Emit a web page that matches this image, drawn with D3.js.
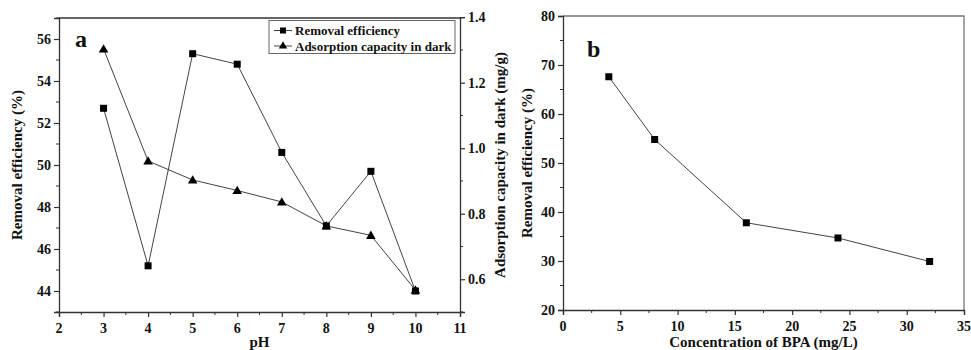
<!DOCTYPE html>
<html>
<head>
<meta charset="utf-8">
<script src="https://cdn.jsdelivr.net/npm/d3@7"></script>
<style>
  body { margin: 0; background: #fff; }
</style>
</head>
<body>
<svg id="chart" width="971" height="350"></svg>
<script>
// panel a data
const pH = [3, 4, 5, 6, 7, 8, 9, 10];
const removalA = [52.7, 45.2, 55.3, 54.8, 50.6, 47.1, 49.7, 44.0];
const adsorption = [1.303, 0.961, 0.903, 0.871, 0.836, 0.763, 0.734, 0.567];
const xTicksA = [2, 3, 4, 5, 6, 7, 8, 9, 10, 11];
const yTicksA = [44, 46, 48, 50, 52, 54, 56];
const y2TicksA = [0.6, 0.8, 1.0, 1.2, 1.4];

// panel b data
const bpa = [4, 8, 16, 24, 32];
const removalB = [67.6, 54.8, 37.8, 34.7, 29.9];
const xTicksB = [0, 5, 10, 15, 20, 25, 30, 35];
const yTicksB = [20, 30, 40, 50, 60, 70, 80];

const svg = d3.select("#chart");
const lineColor = "#444";

function ticksBetween(lo, hi, step) {
  const out = [];
  for (let v = lo; v <= hi + 1e-9; v += step) out.push(+v.toFixed(4));
  return out;
}

function label(sel, size) {
  return sel.style("font-family", "'Liberation Serif'").style("font-weight", "bold")
    .style("font-size", size + "px").attr("fill", "#111");
}

function drawAxis(g, scale, orient, major, minor, fmt) {
  const ax = (orient === "left" ? d3.axisLeft : orient === "right" ? d3.axisRight : d3.axisBottom)(scale)
    .tickValues(major).tickSize(5).tickFormat("");
  g.call(ax);
  g.select(".domain").attr("stroke", "#333").attr("stroke-width", 1.3);
  g.selectAll(".tick line").attr("stroke", "#333").attr("stroke-width", 1.2);
  g.selectAll(".tick text").remove();
  const f = fmt || (d => d);
  const t = label(g.selectAll(".lab").data(major).enter().append("text").attr("class", "lab"), 14)
    .text(f);
  if (orient === "bottom") t.attr("x", d => scale(d)).attr("y", 21).attr("text-anchor", "middle");
  else if (orient === "left") t.attr("x", -8).attr("y", d => scale(d) + 4.8).attr("text-anchor", "end");
  else t.attr("x", 8).attr("y", d => scale(d) + 4.8).attr("text-anchor", "start");
  // minor ticks
  const m = g.selectAll(".minor").data(minor).enter().append("line").attr("class", "minor")
    .attr("stroke", "#333").attr("stroke-width", 1);
  if (orient === "bottom") m.attr("x1", d => scale(d)).attr("x2", d => scale(d)).attr("y1", 0).attr("y2", 3);
  else if (orient === "left") m.attr("y1", d => scale(d)).attr("y2", d => scale(d)).attr("x1", 0).attr("x2", -3);
  else m.attr("y1", d => scale(d)).attr("y2", d => scale(d)).attr("x1", 0).attr("x2", 3);
}

function squares(g, data, x, y, size) {
  g.selectAll(null).data(data).enter().append("rect")
    .attr("x", d => x(d[0]) - size / 2).attr("y", d => y(d[1]) - size / 2)
    .attr("width", size).attr("height", size).attr("fill", "#000");
}

function triangles(g, data, x, y) {
  const sym = d3.symbol().type(d3.symbolTriangle).size(40);
  g.selectAll(null).data(data).enter().append("path")
    .attr("d", sym).attr("fill", "#000")
    .attr("transform", d => `translate(${x(d[0])},${y(d[1]) + 0.8})`);
}

// ---------- panel a ----------
const A = { left: 59, right: 460, top: 18, bottom: 312 };
const xA = d3.scaleLinear().domain([2, 11]).range([A.left, A.right]);
const yA = d3.scaleLinear().domain([43, 57]).range([A.bottom, A.top]);
const y2A = d3.scaleLinear().domain([0.5, 1.4]).range([A.bottom, 17.2]);

svg.append("line").attr("x1", A.left).attr("x2", A.right).attr("y1", A.top).attr("y2", A.top)
  .attr("stroke", "#333").attr("stroke-width", 1.3);

drawAxis(svg.append("g").attr("transform", `translate(0,${A.bottom})`), xA, "bottom",
  xTicksA, ticksBetween(2.5, 10.5, 1));
drawAxis(svg.append("g").attr("transform", `translate(${A.left},0)`), yA, "left",
  yTicksA, ticksBetween(43, 57, 1).filter(v => v % 2 !== 0));
drawAxis(svg.append("g").attr("transform", `translate(${A.right},0)`), y2A, "right",
  y2TicksA, [0.5, 0.7, 0.9, 1.1, 1.3], d3.format(".1f"));

const line = (x, y) => d3.line().x(d => x(d[0])).y(d => y(d[1]));
const remA = pH.map((p, i) => [p, removalA[i]]);
const adsA = pH.map((p, i) => [p, adsorption[i]]);

svg.append("path").datum(remA).attr("d", line(xA, yA)).attr("fill", "none")
  .attr("stroke", lineColor).attr("stroke-width", 1);
svg.append("path").datum(adsA).attr("d", line(xA, y2A)).attr("fill", "none")
  .attr("stroke", lineColor).attr("stroke-width", 1);
const gm = svg.append("g");
squares(gm, remA, xA, yA, 7);
triangles(gm, adsA, xA, y2A);

label(svg.append("text").attr("x", 75).attr("y", 47), 24).text("a");

// legend
const lg = svg.append("g");
lg.append("rect").attr("x", 269).attr("y", 20.5).attr("width", 186).attr("height", 33)
  .attr("fill", "#fff").attr("stroke", "#666").attr("stroke-width", 1);
[["Removal efficiency", "sq"], ["Adsorption capacity in dark", "tri"]].forEach((it, i) => {
  const cy = 30.5 + i * 15.5;
  lg.append("line").attr("x1", 274).attr("x2", 292).attr("y1", cy).attr("y2", cy)
    .attr("stroke", lineColor).attr("stroke-width", 1);
  if (it[1] === "sq") lg.append("rect").attr("x", 280).attr("y", cy - 3).attr("width", 6).attr("height", 6);
  else lg.append("path").attr("d", d3.symbol().type(d3.symbolTriangle).size(30)).attr("transform", `translate(283,${cy})`);
  label(lg.append("text").attr("x", 295).attr("y", cy + 4.5), 13).text(it[0]);
});

label(svg.append("text").attr("x", A.left + (A.right - A.left) / 2).attr("y", 347)
  .attr("text-anchor", "middle"), 15).text("pH");
label(svg.append("text").attr("transform", `translate(17,${(A.top + A.bottom) / 2}) rotate(-90)`)
  .attr("text-anchor", "middle").attr("dy", "0.35em"), 15).text("Removal efficiency (%)");
label(svg.append("text").attr("transform", `translate(500,${(A.top + A.bottom) / 2}) rotate(-90)`)
  .attr("text-anchor", "middle").attr("dy", "0.35em"), 15).text("Adsorption capacity in dark (mg/g)");

// ---------- panel b ----------
const B = { left: 563, right: 964, top: 16, bottom: 310 };
const xB = d3.scaleLinear().domain([0, 35]).range([B.left, B.right]);
const yB = d3.scaleLinear().domain([20, 80]).range([B.bottom, B.top]);

svg.append("path").attr("d", `M${B.left},${B.top}H${B.right}V${B.bottom}`).attr("fill", "none")
  .attr("stroke", "#777").attr("stroke-width", 1.3);
drawAxis(svg.append("g").attr("transform", `translate(0,${B.bottom})`), xB, "bottom",
  xTicksB, ticksBetween(2.5, 32.5, 5));
drawAxis(svg.append("g").attr("transform", `translate(${B.left},0)`), yB, "left",
  yTicksB, ticksBetween(25, 75, 10));

const remB = bpa.map((c, i) => [c, removalB[i]]);
svg.append("path").datum(remB).attr("d", line(xB, yB)).attr("fill", "none")
  .attr("stroke", lineColor).attr("stroke-width", 1);
squares(svg.append("g"), remB, xB, yB, 7);

label(svg.append("text").attr("x", 587).attr("y", 57), 24).text("b");
label(svg.append("text").attr("x", (B.left + B.right) / 2).attr("y", 347)
  .attr("text-anchor", "middle"), 15).text("Concentration of BPA (mg/L)");
label(svg.append("text").attr("transform", `translate(527,${(B.top + B.bottom) / 2}) rotate(-90)`)
  .attr("text-anchor", "middle").attr("dy", "0.35em"), 15).text("Removal efficiency (%)");
</script>
</body>
</html>
